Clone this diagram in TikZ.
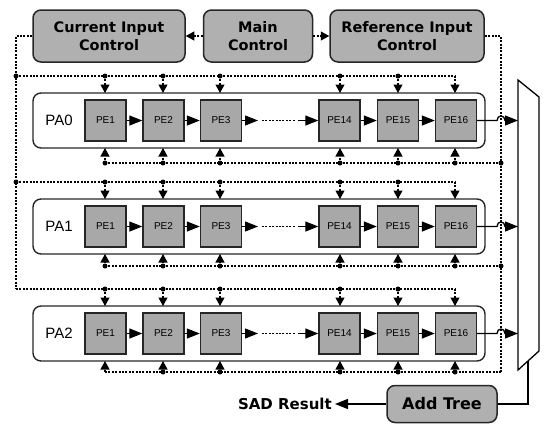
\documentclass[tikz,border=0pt]{standalone}
\usepackage{fontspec}
\setmainfont{Liberation Sans}
\newfontfamily\heavyfont{DejaVu Sans}
\usetikzlibrary{arrows.meta}
\definecolor{ctrlgray}{HTML}{B0B0B0}
\definecolor{pegray}{HTML}{A8A8A8}
\begin{document}
\begin{tikzpicture}[x=1pt,y=-1pt,
  ctrl/.style={draw=black!85, line width=1.5pt, rounded corners=8pt, fill=ctrlgray,
    minimum height=52pt, align=center, inner sep=0pt,
    font=\heavyfont\bfseries\fontsize{14.5}{18}\selectfont, text=black},
  pabox/.style={draw=black!85, line width=1.4pt, rounded corners=8pt, inner sep=0pt},
  pe/.style={draw=black!85, line width=1.4pt, fill=pegray, minimum size=41pt, inner sep=0pt,
    font=\fontsize{10}{12}\selectfont},
  dotline/.style={line width=1.1pt, dash pattern=on 2pt off 1.4pt},
  darr/.style={dotline, -{Triangle[length=8.5pt,width=9pt]}},
  sarr/.style={line width=1.3pt, -{Triangle[length=13pt,width=10pt]}},
  jdot/.style={circle, fill=black, inner sep=0pt, minimum size=5pt}]
\useasboundingbox (0,0) rectangle (544,424);

% control boxes
\node[ctrl, minimum width=152pt] (cic) at (109,36) {Current Input\\Control};
\node[ctrl, minimum width=109pt] (mc) at (258,36) {Main\\Control};
\node[ctrl, minimum width=154pt] (ric) at (407,36) {Reference Input\\Control};
\draw[darr] (mc.west) -- (cic.east);
\draw[darr] (mc.east) -- (ric.west);

% side distribution lines
\coordinate (lt) at (16,36);
\coordinate (lb) at (16,289);
\coordinate (rt) at (501,36);
\coordinate (rb) at (501,372);
\draw[dotline] (cic.west) -- (lt) -- (lb);
\draw[dotline] (ric.east) -- (rt) -- (rb);

% processing arrays
\foreach \k/\dy/\yb in {0/0/163, 1/106/266, 2/213/372}{
  \pgfmathsetmacro{\yc}{120.5+\dy}
  \pgfmathsetmacro{\yt}{76+\dy}
  \pgfmathsetmacro{\ytop}{93+\dy}
  \pgfmathsetmacro{\ybot}{148+\dy}
  \node[pabox, minimum width=452pt, minimum height=55pt] (pa\k) at (259,\yc) {};
  \node[font=\fontsize{15}{18}\selectfont] (lab\k) at (59,\yc) {PA\k};
  \foreach \i/\x in {1/105.5, 2/163.5, 3/221, 14/339.5, 15/398, 16/456}{
    \node[pe] (pe\k-\i) at (\x,\yc) {PE\i};
  }
  \draw[sarr] (pe\k-1) -- (pe\k-2);
  \draw[sarr] (pe\k-2) -- (pe\k-3);
  \draw[sarr] (pe\k-3.east) -- (258,\yc);
  \draw[dotline] (262,\yc) -- (295,\yc);
  \draw[sarr] (298,\yc) -- (pe\k-14.west);
  \draw[sarr] (pe\k-14) -- (pe\k-15);
  \draw[sarr] (pe\k-15) -- (pe\k-16);
  \draw[sarr] (pe\k-16.east) -- (497,\yc) .. controls (497,\yc-6) and (505,\yc-6) .. (505,\yc) -- (518,\yc);
  % top bus
  \draw[dotline] (16,\yt) -- (455,\yt);
  \foreach \x in {105,163,220,340,398,455}{
    \draw[darr] (\x,\yt) -- (\x,\ytop);
  }
  \foreach \x in {105,163,220,340,398}{
    \node[jdot] at (\x,\yt) {};
  }
  % bottom bus
  \draw[dotline] (105,\yb) -- (501,\yb);
  \foreach \x in {105,163,220,340,398,455}{
    \draw[darr] (\x,\yb) -- (\x,\ybot);
  }
  \foreach \x in {163,220,340,398,455}{
    \node[jdot] at (\x,\yb) {};
  }
  \ifnum\k<2
    \node[jdot] at (16,\yt) {};
    \node[jdot] at (105,\yb) {};
    \node[jdot] at (501,\yb) {};
  \fi
}

% adder mux
\draw[line width=1.3pt] (518,80) -- (539,97) -- (539,351) -- (518,370) -- cycle;
\coordinate (muxout) at (528,361);

% add tree and result
\node[ctrl, minimum width=110pt, minimum height=37pt,
  font=\heavyfont\bfseries\fontsize{16}{18}\selectfont] (add) at (442,404) {Add Tree};
\node[anchor=east, inner sep=0pt, font=\heavyfont\bfseries\fontsize{15}{18}\selectfont] (sad) at (332,404) {SAD Result};
\draw[line width=1.3pt] (muxout) -- (528,404) -- (add.east);
\draw[sarr] (add.west) -- ([xshift=3pt]sad.east);
\end{tikzpicture}
\end{document}
